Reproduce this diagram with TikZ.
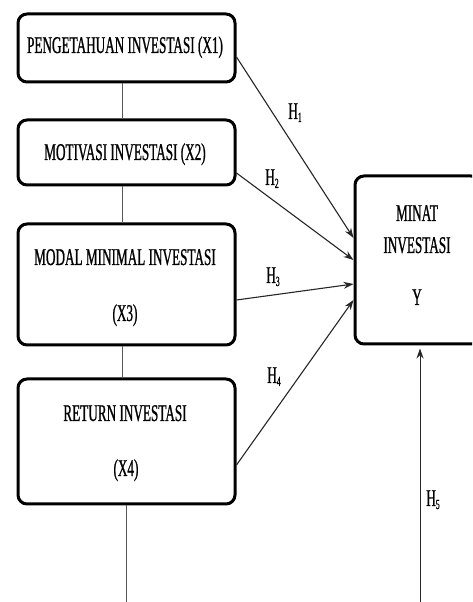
\documentclass[tikz,border=0pt]{standalone}
\usepackage{fontspec}
\setmainfont{Liberation Serif}
\newfontfamily\cond[FakeStretch=0.55,FakeBold=0.8]{Liberation Serif}
\usetikzlibrary{arrows.meta,calc}
\newcommand\hlab[1]{H\raisebox{-3pt}{\fontsize{14}{14}\selectfont #1}}
\tikzset{
  box/.style={draw=black, line width=3pt, rounded corners=9pt, inner sep=0pt, minimum width=217pt},
  txt/.style={font=\cond\fontsize{24}{28}\selectfont, text=black, inner sep=0pt, anchor=base},
  link/.style={draw=black!65, line width=0.8pt},
  hyp/.style={draw=black!85, line width=1.1pt, -{Stealth[length=10pt,width=7pt]}}
}
\begin{document}
\begin{tikzpicture}[x=1pt,y=1pt]
\useasboundingbox (0,0) rectangle (472,602);
\clip (0,0) rectangle (472,602);
% boxes
\node[box, minimum height=68pt] (b1) at (126.5,554) {};
\node[box, minimum height=65pt] (b2) at (126.5,449.5) {};
\node[box, minimum height=121pt] (b3) at (126.5,317.5) {};
\node[box, minimum height=125pt] (b4) at (126.5,160.5) {};
\node[box, minimum width=125pt, minimum height=168pt] (Y) at (417.5,342) {};
% texts
\node[txt] (t1) at ($(b1.center)+(-1.5,-5)$) {PENGETAHUAN INVESTASI (X1)};
\node[txt] (t2) at ($(b2.center)+(-1.5,-7.5)$) {MOTIVASI INVESTASI (X2)};
\node[txt] (t3a) at ($(b3.center)+(-1.5,19.5)$) {MODAL MINIMAL INVESTASI};
\node[txt] (t3b) at ($(b3.center)+(-1.5,-36.5)$) {(X3)};
\node[txt] (t4a) at ($(b4.center)+(-1.5,20.5)$) {RETURN INVESTASI};
\node[txt] (t4b) at ($(b4.center)+(-0.5,-34.5)$) {(X4)};
\node[txt] (ty1) at ($(Y.center)+(-0.5,39)$) {MINAT};
\node[txt] (ty2) at ($(Y.center)+(-0.5,7)$) {INVESTASI};
\node[txt] (ty3) at ($(Y.center)+(-0.5,-45)$) {Y};
% vertical links
\draw[link] ([xshift=-4.5pt]b1.south) -- ([xshift=-4.5pt]b2.north);
\draw[link] ([xshift=-4.5pt]b2.south) -- ([xshift=-4.5pt]b3.north);
\draw[link] ([xshift=-4.5pt]b3.south) -- ([xshift=-4.5pt]b4.north);
\coordinate (bot) at (126,0);
\draw[link] ([xshift=-0.5pt]b4.south) -- (bot);
% hypotheses
\draw[hyp] ([yshift=-9pt]b1.east) -- ([yshift=22pt]Y.west);
\draw[hyp] ([yshift=-20.5pt]b2.east) -- (Y.west);
\draw[hyp] ([yshift=-15.5pt]b3.east) -- ([yshift=-24pt]Y.west);
\draw[hyp] ([yshift=-23.5pt]b4.east) -- ([yshift=-40pt]Y.west);
\coordinate (h5s) at (420,0);
\draw[hyp, line width=0.9pt, shorten >=3pt] (h5s) -- ([xshift=2.5pt]Y.south);
% labels
\node[txt] (H1) at (295,483) {\hlab{1}};
\node[txt] (H2) at (272,417) {\hlab{2}};
\node[txt] (H3) at (273,319) {\hlab{3}};
\node[txt] (H4) at (274,219) {\hlab{4}};
\node[txt] (H5) at (433,96) {\hlab{5}};
\end{tikzpicture}
\end{document}
